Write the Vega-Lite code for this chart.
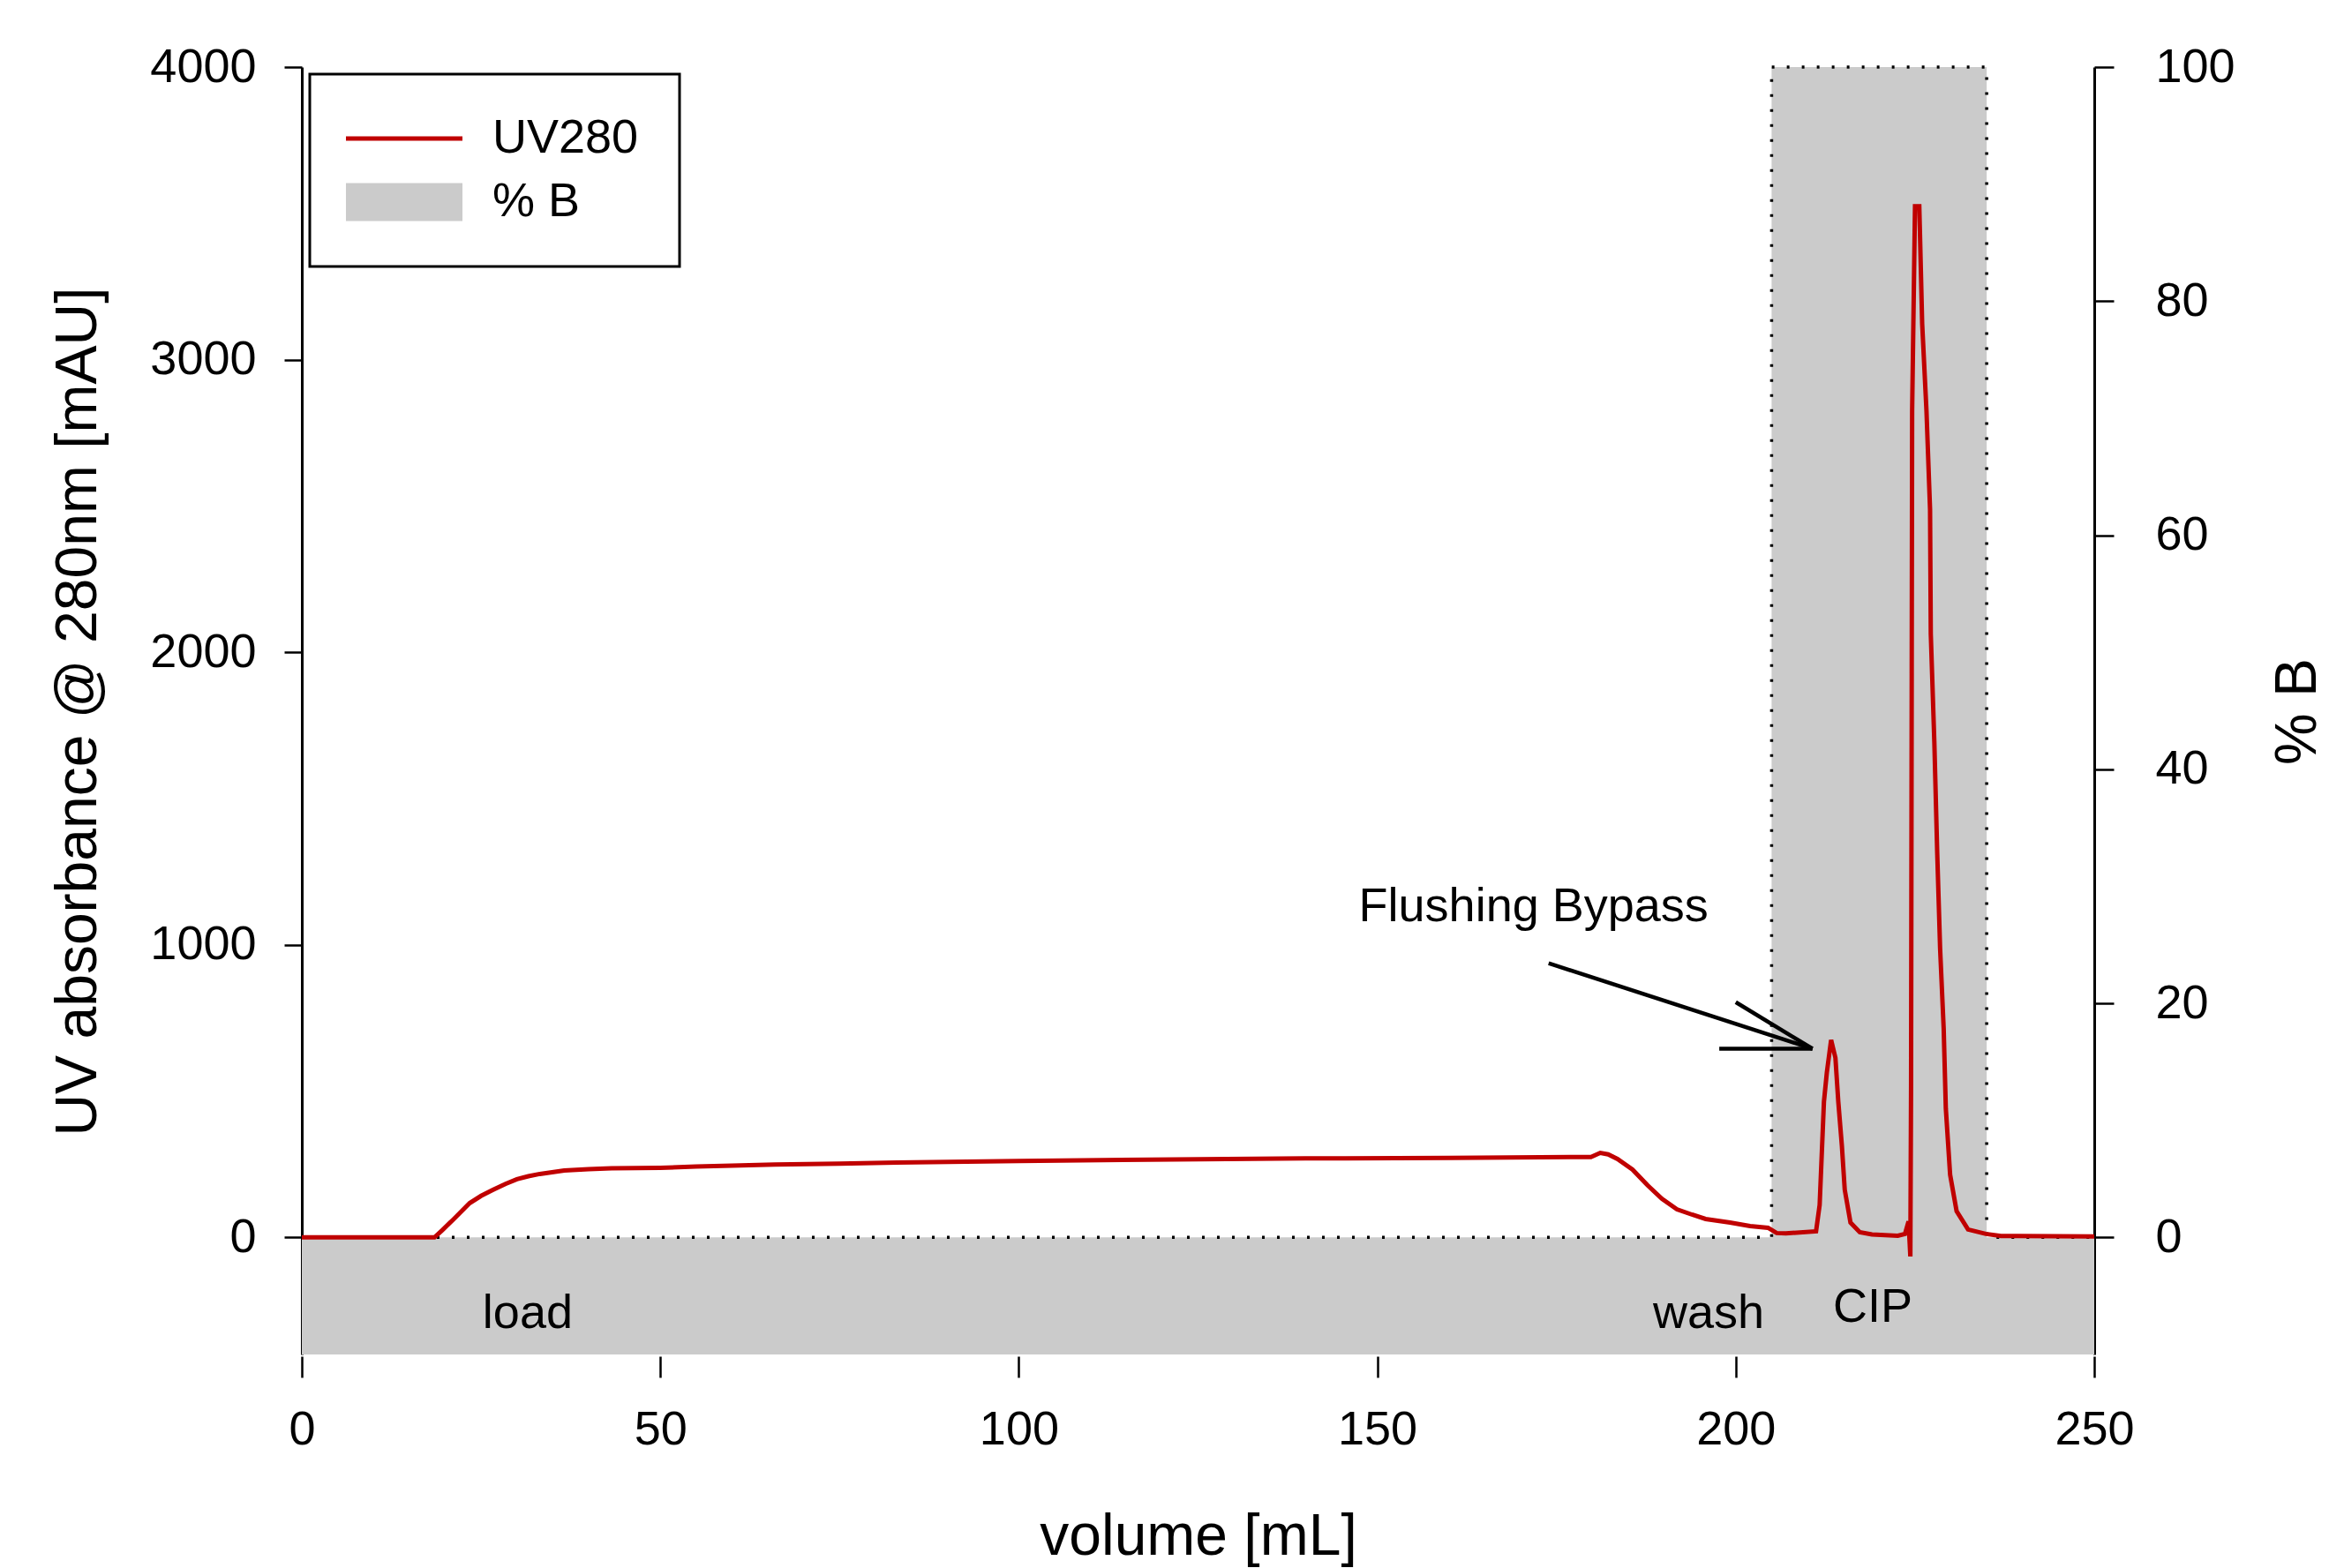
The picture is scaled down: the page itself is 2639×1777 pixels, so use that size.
{
  "$schema": "https://vega.github.io/schema/vega-lite/v6.json",
  "width": 2031,
  "height": 1459,
  "autosize": "none",
  "padding": {"left": 342, "top": 76, "right": 266, "bottom": 242},
  "background": "white",
  "config": {
    "view": {"stroke": null},
    "font": "Liberation Sans",
    "axis": {
      "labelFont": "Liberation Sans",
      "titleFont": "Liberation Sans",
      "labelColor": "black",
      "titleColor": "black",
      "labelFontSize": 54,
      "titleFontSize": 66,
      "titleFontWeight": "normal",
      "tickColor": "black",
      "domainColor": "black",
      "grid": false,
      "labelOverlap": false,
      "labelFlush": false
    },
    "legend": {
      "orient": "none", "legendX": 9, "legendY": 8, "title": null,
      "direction": "vertical",
      "padding": 46, "rowPadding": 18,
      "labelFontSize": 54, "labelFont": "Liberation Sans", "labelColor": "black",
      "labelOffset": 73, "labelLimit": 0,
      "symbolSize": 1600, "symbolOffset": 34, "symbolStrokeWidth": 4,
      "strokeColor": "black"
    },
    "text": {"font": "Liberation Sans"}
  },
  "datasets": {
    "pb": [
      {"v": 0, "B": 0},
      {"v": 205, "B": 100},
      {"v": 235, "B": 0},
      {"v": 250, "B": 0}
    ],
    "uv": [
      {"v": 0, "uv": 0}, {"v": 18.5, "uv": 0}, {"v": 19.6, "uv": 25}, {"v": 21.2, "uv": 63},
      {"v": 23.4, "uv": 117}, {"v": 25, "uv": 142}, {"v": 26.7, "uv": 163}, {"v": 28.4, "uv": 183},
      {"v": 30, "uv": 199}, {"v": 31.6, "uv": 209}, {"v": 33.2, "uv": 217}, {"v": 36.6, "uv": 229},
      {"v": 40, "uv": 233}, {"v": 43.2, "uv": 236}, {"v": 50, "uv": 238}, {"v": 55, "uv": 242},
      {"v": 60, "uv": 245}, {"v": 66, "uv": 249}, {"v": 75, "uv": 252}, {"v": 83, "uv": 256},
      {"v": 100, "uv": 261}, {"v": 118, "uv": 266}, {"v": 140, "uv": 270}, {"v": 160, "uv": 272},
      {"v": 179.8, "uv": 275}, {"v": 181.1, "uv": 289}, {"v": 182.2, "uv": 284}, {"v": 183.5, "uv": 268},
      {"v": 185.6, "uv": 232}, {"v": 187.7, "uv": 178}, {"v": 189.7, "uv": 132}, {"v": 191.8, "uv": 96},
      {"v": 193.9, "uv": 78}, {"v": 195.8, "uv": 63}, {"v": 199.2, "uv": 51}, {"v": 202, "uv": 39},
      {"v": 204.5, "uv": 33}, {"v": 205.7, "uv": 15}, {"v": 207, "uv": 14}, {"v": 211.2, "uv": 21},
      {"v": 211.7, "uv": 111}, {"v": 212.3, "uv": 464}, {"v": 212.7, "uv": 563}, {"v": 213.3, "uv": 675},
      {"v": 213.9, "uv": 614}, {"v": 214.3, "uv": 464}, {"v": 214.8, "uv": 313}, {"v": 215.2, "uv": 163},
      {"v": 216, "uv": 51}, {"v": 217.3, "uv": 18}, {"v": 219, "uv": 10}, {"v": 222.6, "uv": 6},
      {"v": 223.6, "uv": 12}, {"v": 224.1, "uv": 55}, {"v": 224.35, "uv": -65}, {"v": 224.45, "uv": 515},
      {"v": 224.6, "uv": 2825}, {"v": 225, "uv": 3524}, {"v": 225.6, "uv": 3524}, {"v": 226, "uv": 3123},
      {"v": 226.6, "uv": 2825}, {"v": 227.1, "uv": 2488}, {"v": 227.2, "uv": 2063}, {"v": 227.7, "uv": 1690},
      {"v": 228.1, "uv": 1313}, {"v": 228.5, "uv": 988}, {"v": 229, "uv": 714}, {"v": 229.3, "uv": 440},
      {"v": 229.9, "uv": 214}, {"v": 230.8, "uv": 90}, {"v": 232.4, "uv": 27}, {"v": 234.9, "uv": 12},
      {"v": 237, "uv": 5}, {"v": 250, "uv": 3}
    ],
    "labels": [
      {"v": 171.8, "uv": 1081, "t": "Flushing Bypass"},
      {"v": 31.5, "uv": -310, "t": "load"},
      {"v": 196.2, "uv": -310, "t": "wash"},
      {"v": 219.1, "uv": -287, "t": "CIP"}
    ],
    "arrow": [
      {"v": 173.9, "uv": 937, "v2": 210.7, "uv2": 645},
      {"v": 200.0, "uv": 804, "v2": 210.7, "uv2": 645},
      {"v": 197.7, "uv": 645, "v2": 210.7, "uv2": 645}
    ]
  },
  "layer": [
    {
      "data": {"name": "pb"},
      "encoding": {
        "x": {
          "field": "v", "type": "quantitative",
          "scale": {"domain": [0, 250], "nice": false, "zero": false},
          "axis": {
            "orient": "bottom", "values": [0, 50, 100, 150, 200, 250],
            "domain": false, "tickSize": 24, "tickWidth": 2.5, "offset": 2,
            "labelPadding": 32, "title": "volume [mL]",
            "titleBaseline": "alphabetic", "titleY": 224
          }
        },
        "y": {
          "field": "B", "type": "quantitative",
          "scale": {"domain": [-10, 100], "nice": false, "zero": false},
          "axis": {
            "orient": "right", "values": [0, 20, 40, 60, 80, 100], "format": "d",
            "domainWidth": 3, "tickSize": 22, "tickWidth": 2.5, "labelPadding": 47,
            "title": "% B", "titleAngle": 270, "titleBaseline": "alphabetic",
            "titleAlign": "center", "titleX": 250, "titleY": 730
          }
        }
      },
      "layer": [
        {
          "mark": {"type": "area", "interpolate": "step-after", "opacity": 1},
          "encoding": {
            "y2": {"datum": -10},
            "color": {
              "datum": "% B", "type": "nominal",
              "scale": {"domain": ["UV280", "% B"], "range": ["#c00000", "#cbcbcb"]},
              "legend": {
                "encode": {
                  "legend": {"update": {"strokeWidth": {"value": 3}}},
                  "symbols": {"update": {
                    "shape": {"signal": "datum.value === 'UV280' ? 'M-3.25,-0.07H3.25V0.07H-3.25Z' : 'M-3.25,-1.02H3.25V1.02H-3.25Z'"},
                    "fill": {"signal": "datum.value === 'UV280' ? '#c00000' : '#cbcbcb'"},
                    "stroke": {"signal": "datum.value === 'UV280' ? '#c00000' : '#6f6f6f'"},
                    "strokeWidth": {"value": 2},
                    "strokeOpacity": {"value": 1},
                    "fillOpacity": {"value": 1},
                    "opacity": {"value": 1}
                  }}
                }
              }
            }
          }
        },
        {
          "mark": {"type": "line", "interpolate": "step-after", "color": "black", "strokeWidth": 3.5, "strokeDash": [3, 14]},
          "encoding": {}
        }
      ]
    },
    {
      "encoding": {
        "x": {
          "field": "v", "type": "quantitative",
          "scale": {"domain": [0, 250], "nice": false, "zero": false},
          "axis": {
            "orient": "bottom", "values": [0, 50, 100, 150, 200, 250],
            "domain": false, "tickSize": 24, "tickWidth": 2.5, "offset": 2,
            "labelPadding": 32, "title": "volume [mL]",
            "titleBaseline": "alphabetic", "titleY": 224
          }
        },
        "y": {
          "field": "uv", "type": "quantitative",
          "scale": {"domain": [-400, 4000], "nice": false, "zero": false},
          "axis": {
            "orient": "left", "values": [0, 1000, 2000, 3000, 4000], "format": "d",
            "domainWidth": 3, "tickSize": 20, "tickWidth": 2.5, "labelPadding": 32,
            "title": "UV absorbance @ 280nm [mAU]", "titleAngle": 270,
            "titleBaseline": "alphabetic", "titleAlign": "center", "titleX": -234, "titleY": 730
          }
        }
      },
      "layer": [
        {
          "data": {"name": "uv"},
          "mark": {"type": "line", "strokeWidth": 5, "strokeJoin": "miter"},
          "encoding": {
            "color": {
              "datum": "UV280", "type": "nominal",
              "legend": {
                "encode": {
                  "legend": {"update": {"strokeWidth": {"value": 3}}},
                  "symbols": {"update": {
                    "shape": {"signal": "datum.value === 'UV280' ? 'M-3.25,-0.07H3.25V0.07H-3.25Z' : 'M-3.25,-1.02H3.25V1.02H-3.25Z'"},
                    "fill": {"signal": "datum.value === 'UV280' ? '#c00000' : '#cbcbcb'"},
                    "stroke": {"signal": "datum.value === 'UV280' ? '#c00000' : '#6f6f6f'"},
                    "strokeWidth": {"value": 2},
                    "strokeOpacity": {"value": 1},
                    "fillOpacity": {"value": 1},
                    "opacity": {"value": 1}
                  }}
                }
              }
            }
          }
        },
        {
          "data": {"name": "labels"},
          "mark": {"type": "text", "fontSize": 54, "align": "center", "baseline": "alphabetic", "color": "black"},
          "encoding": {"text": {"field": "t"}}
        },
        {
          "data": {"name": "arrow"},
          "mark": {"type": "rule", "color": "black", "strokeWidth": 4.5},
          "encoding": {
            "x2": {"field": "v2"},
            "y2": {"field": "uv2"}
          }
        }
      ]
    }
  ],
  "resolve": {"scale": {"y": "independent"}, "axis": {"y": "independent"}}
}
